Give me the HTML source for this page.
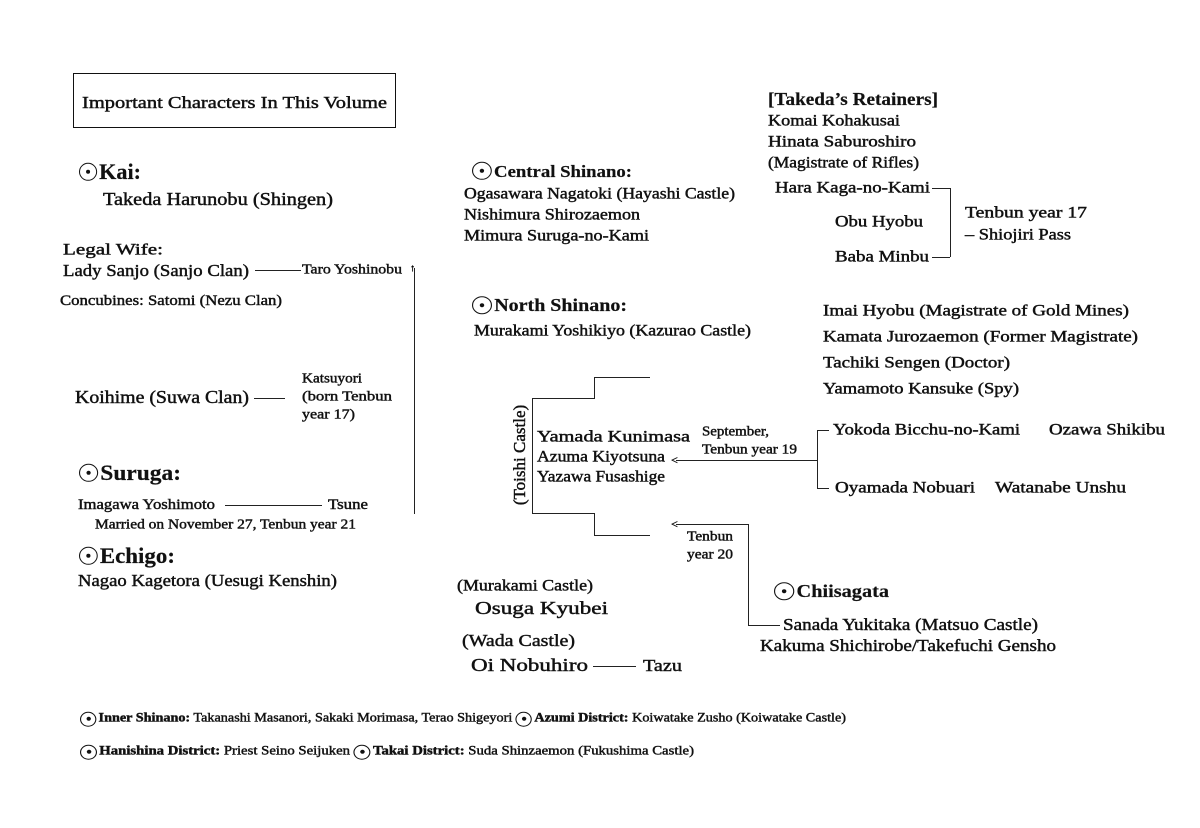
<!DOCTYPE html>
<html><head><meta charset="utf-8"><style>
body{margin:0;width:1200px;height:828px;background:#fff;position:relative;overflow:hidden;font-family:"Liberation Serif",serif;color:#111}
.t{position:absolute;white-space:nowrap;transform:translateY(-50%);transform-origin:left center;line-height:1.2;font-size:16px;-webkit-text-stroke:0.45px #111}
.b{font-weight:bold;-webkit-text-stroke:0.2px #111}
.l{position:absolute;background:#222}
.c{display:inline-block;width:15px;height:15px;border:1.5px solid #111;border-radius:50%;position:relative;vertical-align:middle;margin-right:2px;box-sizing:border-box;-webkit-text-stroke:0}
.c::after{content:"";position:absolute;left:50%;top:50%;width:4px;height:4px;margin:-2px 0 0 -2px;background:#111;border-radius:50%}
.big .c{width:18px;height:18px;margin-top:-4px}
</style></head><body>
<div style="position:absolute;left:73px;top:73px;width:321px;height:53px;border:1.5px solid #111"></div>
<div class="t" style="left:82px;top:103px;font-size:17px;--w:305">Important Characters In This Volume</div>

<div class="t b big" style="left:79px;top:172px;font-size:22px;--w:62"><span class="c"></span>Kai:</div>
<div class="t" style="left:103px;top:200px;font-size:18px;--w:230">Takeda Harunobu (Shingen)</div>
<div class="t" style="left:63px;top:250px;--w:100">Legal Wife:</div>
<div class="t" style="left:63px;top:271px;font-size:17px;--w:186">Lady Sanjo (Sanjo Clan)</div>
<div class="l" style="left:255px;top:270px;width:46px;height:1px"></div>
<div class="t" style="left:302px;top:271px;font-size:14px;--w:100">Taro Yoshinobu</div>
<div class="l" style="left:414px;top:268px;width:1px;height:246px"></div>
<div class="t" style="left:410px;top:269px;font-size:10px">↑</div>
<div class="t" style="left:60px;top:301px;font-size:15px;--w:222">Concubines: Satomi (Nezu Clan)</div>
<div class="t" style="left:75px;top:398px;font-size:18px;--w:174">Koihime (Suwa Clan)</div>
<div class="l" style="left:254px;top:398px;width:31px;height:1px"></div>
<div class="t" style="left:302px;top:380px;font-size:14px;--w:60">Katsuyori</div>
<div class="t" style="left:302px;top:398px;font-size:14px;--w:90">(born Tenbun</div>
<div class="t" style="left:302px;top:416px;font-size:14px;--w:53">year 17)</div>
<div class="t b big" style="left:79px;top:473px;font-size:22px;--w:102"><span class="c"></span>Suruga:</div>
<div class="t" style="left:78px;top:505px;font-size:15px;--w:137">Imagawa Yoshimoto</div>
<div class="l" style="left:225px;top:505px;width:97px;height:1px"></div>
<div class="t" style="left:328px;top:505px;font-size:15px;--w:40">Tsune</div>
<div class="t" style="left:95px;top:526px;font-size:14px;--w:261">Married on November 27, Tenbun year 21</div>
<div class="t b big" style="left:79px;top:556px;font-size:22px;--w:96"><span class="c"></span>Echigo:</div>
<div class="t" style="left:78px;top:581px;font-size:17px;--w:259">Nagao Kagetora (Uesugi Kenshin)</div>

<div class="t b big" style="left:472px;top:172px;font-size:17px;--w:160"><span class="c"></span>Central Shinano:</div>
<div class="t" style="left:464px;top:194px;--w:271">Ogasawara Nagatoki (Hayashi Castle)</div>
<div class="t" style="left:464px;top:215px;--w:176">Nishimura Shirozaemon</div>
<div class="t" style="left:464px;top:236px;--w:185">Mimura Suruga-no-Kami</div>
<div class="t b big" style="left:472px;top:306px;font-size:18px;--w:155"><span class="c"></span>North Shinano:</div>
<div class="t" style="left:474px;top:331px;--w:277">Murakami Yoshikiyo (Kazurao Castle)</div>

<div class="l" style="left:594px;top:377px;width:56px;height:1px"></div>
<div class="l" style="left:594px;top:377px;width:1px;height:21px"></div>
<div class="l" style="left:532px;top:398px;width:63px;height:1px"></div>
<div class="l" style="left:532px;top:398px;width:1px;height:115px"></div>
<div class="l" style="left:532px;top:513px;width:63px;height:1px"></div>
<div class="l" style="left:594px;top:513px;width:1px;height:22px"></div>
<div class="l" style="left:594px;top:535px;width:56px;height:1px"></div>
<div style="position:absolute;left:465px;top:445px;width:110px;height:20px;line-height:20px;text-align:center;transform:rotate(-90deg);font-size:17px;white-space:nowrap;-webkit-text-stroke:0.45px #111">(Toishi Castle)</div>
<div class="t" style="left:537px;top:437px;--w:153">Yamada Kunimasa</div>
<div class="t" style="left:537px;top:457px;--w:128">Azuma Kiyotsuna</div>
<div class="t" style="left:537px;top:477px;--w:128">Yazawa Fusashige</div>

<div class="l" style="left:676px;top:460px;width:141px;height:1px"></div>
<div class="t" style="left:671px;top:460px;font-size:12px">&lt;</div>
<div class="l" style="left:817px;top:430px;width:1px;height:58px"></div>
<div class="l" style="left:817px;top:430px;width:12px;height:1px"></div>
<div class="l" style="left:817px;top:488px;width:12px;height:1px"></div>
<div class="t" style="left:702px;top:433px;font-size:14px;--w:67">September,</div>
<div class="t" style="left:702px;top:451px;font-size:14px;--w:95">Tenbun year 19</div>
<div class="t" style="left:833px;top:430px;--w:187">Yokoda Bicchu-no-Kami</div>
<div class="t" style="left:1049px;top:430px;--w:116">Ozawa Shikibu</div>
<div class="t" style="left:835px;top:488px;--w:140">Oyamada Nobuari</div>
<div class="t" style="left:995px;top:488px;--w:131">Watanabe Unshu</div>

<div class="l" style="left:676px;top:524px;width:72px;height:1px"></div>
<div class="t" style="left:671px;top:524px;font-size:12px">&lt;</div>
<div class="l" style="left:748px;top:524px;width:1px;height:101px"></div>
<div class="l" style="left:748px;top:625px;width:32px;height:1px"></div>
<div class="t" style="left:687px;top:538px;font-size:14px;--w:46">Tenbun</div>
<div class="t" style="left:687px;top:556px;font-size:14px;--w:46">year 20</div>
<div class="t b big" style="left:774px;top:592px;font-size:18px;--w:115"><span class="c"></span>Chiisagata</div>
<div class="t" style="left:783px;top:625px;font-size:17px;--w:255">Sanada Yukitaka (Matsuo Castle)</div>
<div class="t" style="left:760px;top:646px;font-size:17px;--w:296">Kakuma Shichirobe/Takefuchi Gensho</div>

<div class="t" style="left:457px;top:586px;--w:136">(Murakami Castle)</div>
<div class="t" style="left:475px;top:609px;font-size:18px;--w:133">Osuga Kyubei</div>
<div class="t" style="left:462px;top:641px;font-size:17px;--w:113">(Wada Castle)</div>
<div class="t" style="left:471px;top:666px;font-size:18px;--w:117">Oi Nobuhiro</div>
<div class="l" style="left:593px;top:666px;width:43px;height:1px"></div>
<div class="t" style="left:643px;top:666px;font-size:17px;--w:39">Tazu</div>

<div class="t b" style="left:768px;top:100px;font-size:18px;--w:170">[Takeda’s Retainers]</div>
<div class="t" style="left:768px;top:121px;--w:132">Komai Kohakusai</div>
<div class="t" style="left:768px;top:142px;--w:148">Hinata Saburoshiro</div>
<div class="t" style="left:768px;top:163px;--w:151">(Magistrate of Rifles)</div>
<div class="t" style="left:775px;top:188px;--w:155">Hara Kaga-no-Kami</div>
<div class="l" style="left:932px;top:188px;width:18px;height:1px"></div>
<div class="l" style="left:950px;top:188px;width:1px;height:69px"></div>
<div class="l" style="left:932px;top:257px;width:18px;height:1px"></div>
<div class="t" style="left:835px;top:222px;--w:88">Obu Hyobu</div>
<div class="t" style="left:835px;top:257px;--w:94">Baba Minbu</div>
<div class="t" style="left:965px;top:213px;--w:122">Tenbun year 17</div>
<div class="t" style="left:965px;top:235px;--w:106">– Shiojiri Pass</div>

<div class="t" style="left:823px;top:311px;--w:306">Imai Hyobu (Magistrate of Gold Mines)</div>
<div class="t" style="left:823px;top:337px;--w:315">Kamata Jurozaemon (Former Magistrate)</div>
<div class="t" style="left:823px;top:363px;--w:187">Tachiki Sengen (Doctor)</div>
<div class="t" style="left:823px;top:389px;--w:196">Yamamoto Kansuke (Spy)</div>

<div class="t" style="left:80px;top:718px;font-size:13px;--w:766"><span class="c"></span><b>Inner Shinano:</b> Takanashi Masanori, Sakaki Morimasa, Terao Shigeyori <span class="c"></span><b>Azumi District:</b> Koiwatake Zusho (Koiwatake Castle)</div>
<div class="t" style="left:80px;top:751px;font-size:13px;--w:614"><span class="c"></span><b>Hanishina District:</b> Priest Seino Seijuken <span class="c"></span><b>Takai District:</b> Suda Shinzaemon (Fukushima Castle)</div>
<script>
document.querySelectorAll('.t').forEach(function(e){
  var w=parseFloat(getComputedStyle(e).getPropertyValue('--w'));
  if(!w)return;
  var a=e.getBoundingClientRect().width;
  if(a>0)e.style.transform='translateY(-50%) scaleX('+(w/a)+')';
});
</script>
</body></html>
